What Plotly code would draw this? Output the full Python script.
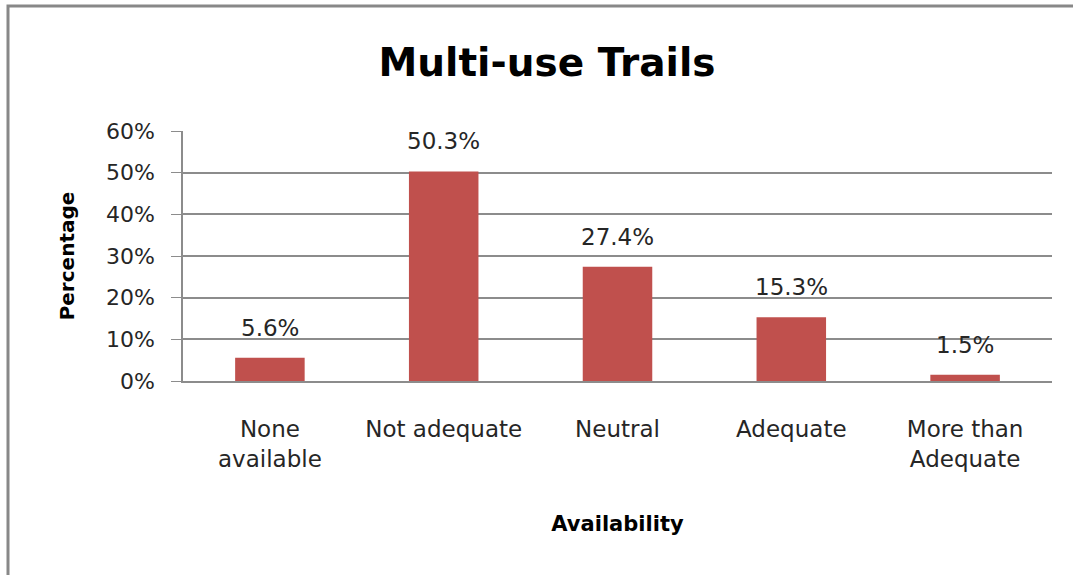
import plotly.graph_objects as go

categories = ["None<br>available", "Not adequate", "Neutral", "Adequate", "More than<br>Adequate"]
percentages = [5.6, 50.3, 27.4, 15.3, 1.5]
y_ticks = [0, 10, 20, 30, 40, 50, 60]

_BAR = "#c0504d"
_GRID = "#8c8c8c"
_FONT = "DejaVu Sans, sans-serif"
_TEXT = "#262626"

W, H = 1073, 575
L, R, T, B = 183, 21, 131, 194
pw, ph = W - L - R, H - T - B


def _px(x):
    return (x - L) / pw


def _py(y):
    return (H - B - y) / ph


fig = go.Figure(
    data=[go.Bar(x=categories, y=percentages, marker_color=_BAR, marker_line_width=0, hoverinfo="x+y")]
)

for c, v in zip(categories, percentages):
    fig.add_annotation(
        x=c, y=v, text=f"{v}%", showarrow=False, yanchor="bottom", yshift=15,
        font={"size": 23, "color": _TEXT, "family": _FONT},
    )

# outer chart frame (runs off the right and bottom edges like the source image)
fig.add_shape(
    type="rect", xref="paper", yref="paper",
    x0=_px(8), x1=_px(1085), y0=_py(590), y1=_py(6),
    line={"color": "#888888", "width": 3}, fillcolor="rgba(0,0,0,0)", layer="below",
)

fig.update_layout(
    width=W, height=H,
    margin={"l": L, "r": R, "t": T, "b": B},
    paper_bgcolor="white", plot_bgcolor="white",
    font={"family": _FONT, "size": 22, "color": _TEXT},
    bargap=0.6,
    showlegend=False,
    title={"text": "<b>Multi-use Trails</b>", "x": 547 / W, "xanchor": "center", "y": 1 - 62 / H,
           "yanchor": "middle", "font": {"size": 39, "color": "black", "family": _FONT}},
    xaxis={
        "showline": True, "linecolor": _GRID, "linewidth": 2, "ticks": "", "showgrid": False,
        "tickfont": {"size": 23}, "ticklabelstandoff": 26,
        "title": {"text": "<b>Availability</b>", "font": {"size": 21, "color": "black"}, "standoff": 46},
    },
    yaxis={
        "range": [0, 60], "tickvals": y_ticks, "ticktext": [f"{t}%" for t in y_ticks],
        "showline": True, "linecolor": _GRID, "linewidth": 1.5, "ticks": "outside", "ticklen": 10,
        "tickcolor": _GRID, "showgrid": True, "gridcolor": _GRID, "gridwidth": 1.5, "zeroline": False,
        "tickfont": {"size": 22}, "ticklabelstandoff": 12,
        "title": {"text": "<b>Percentage</b>", "font": {"size": 20, "color": "black"}, "standoff": 26},
    },
)

fig.write_html(
    "out.html",
    config={"displayModeBar": False},
    post_script="document.body.style.margin='0';",
)
